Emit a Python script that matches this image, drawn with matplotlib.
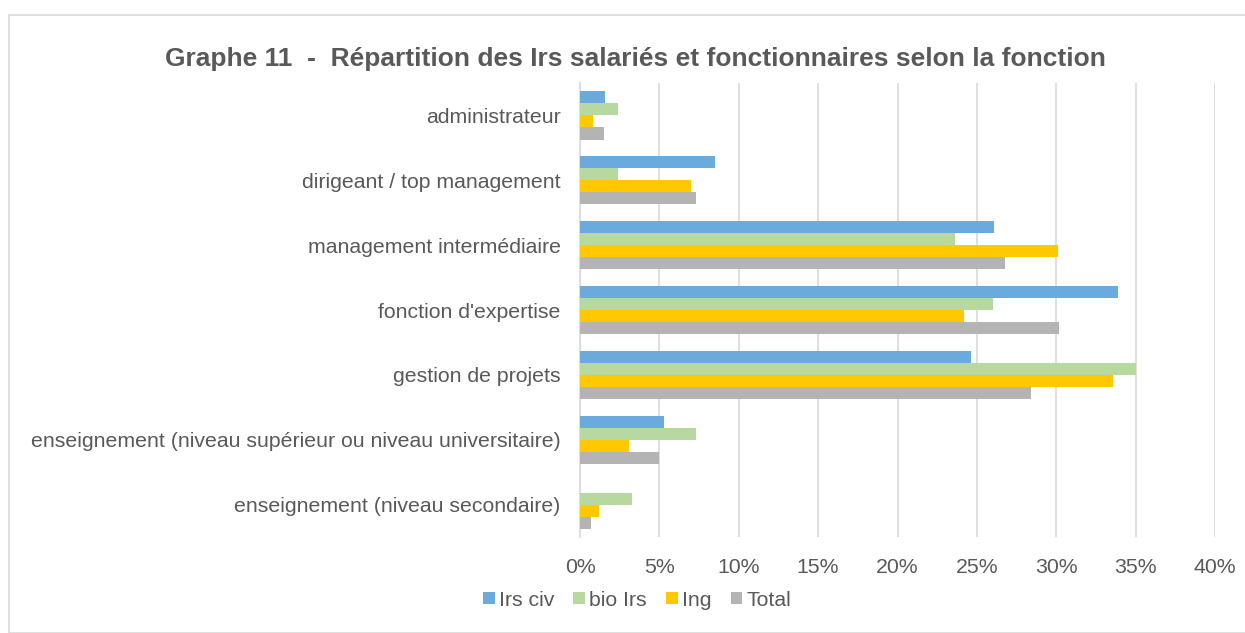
import matplotlib.pyplot as plt
import numpy as np
from matplotlib.patches import Rectangle
from matplotlib.ticker import FuncFormatter, MultipleLocator

plt.rcParams["font.family"] = ["Liberation Sans", "DejaVu Sans"]

CATEGORIES = [
    "administrateur",
    "dirigeant / top management",
    "management intermédiaire",
    "fonction d'expertise",
    "gestion de projets",
    "enseignement (niveau supérieur ou niveau universitaire)",
    "enseignement (niveau secondaire)",
]
SERIES = ["Irs civ", "bio Irs", "Ing", "Total"]
IRS_CIV = [1.6, 8.5, 26.1, 33.9, 24.6, 5.3, 0.0]
BIO_IRS = [2.4, 2.4, 23.6, 26.0, 35.0, 7.3, 3.3]
ING = [0.8, 7.0, 30.1, 24.2, 33.6, 3.1, 1.2]
TOTAL = [1.5, 7.3, 26.8, 30.2, 28.4, 5.0, 0.7]
COLORS = ["#6aaadd", "#b7d89e", "#ffc800", "#b4b4b4"]
TEXT = "#595959"

W, H = 1245, 633
fig = plt.figure(figsize=(W / 100, H / 100), dpi=100)
fig.patches.append(
    Rectangle((9 / W, 0), 1, 1 - 15 / H, transform=fig.transFigure,
              fill=False, edgecolor="#d9d9d9", linewidth=1.2)
)

ax = fig.add_axes([580 / W, 1 - 537 / H, 635 / W, 454 / H])

y = np.arange(len(CATEGORIES))
bar_h = 0.186
values = [IRS_CIV, BIO_IRS, ING, TOTAL]
for i, (name, vals, col) in enumerate(zip(SERIES, values, COLORS)):
    offset = (i - 1.5) * bar_h
    ax.barh(y + offset, vals, height=bar_h, color=col, label=name, zorder=3)

ax.set_ylim(len(CATEGORIES) - 0.5, -0.5)
ax.set_xlim(0, 40)
ax.xaxis.set_major_locator(MultipleLocator(5))
ax.xaxis.set_major_formatter(FuncFormatter(lambda v, _: f"{v:.0f}%"))
ax.set_yticks(y)
ax.set_yticklabels(CATEGORIES)
ax.tick_params(axis="both", length=0, labelsize=15.3, labelcolor=TEXT)
ax.tick_params(axis="x", pad=15)
ax.tick_params(axis="y", pad=14)
ax.grid(axis="x", color="#d9d9d9", linewidth=1.2, zorder=0)
for side in ["top", "right", "bottom"]:
    ax.spines[side].set_visible(False)
ax.spines["left"].set_color("#d9d9d9")
ax.spines["left"].set_linewidth(1.2)

fig.text(635 / W, 1 - 59 / H,
         "Graphe 11  -  Répartition des Irs salariés et fonctionnaires selon la fonction",
         ha="center", va="center", fontsize=19, fontweight="bold", color=TEXT)

fig.legend(loc="center", bbox_to_anchor=(637 / W, 1 - 600 / H), ncol=4,
           frameon=False, fontsize=15.3, labelcolor=TEXT,
           handlelength=0.55, handleheight=0.55, handletextpad=0.2,
           columnspacing=0.9)

fig.savefig("out.png", dpi=100)
